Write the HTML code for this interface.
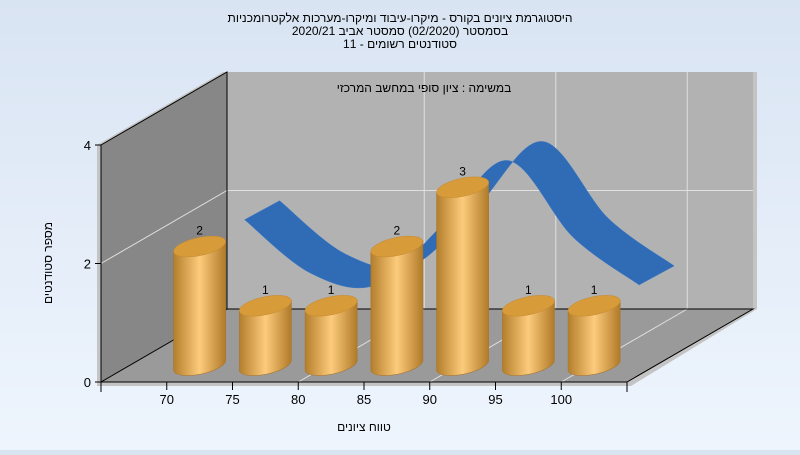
<!DOCTYPE html>
<html><head><meta charset="utf-8"><style>
html,body{margin:0;padding:0}
body{width:800px;height:450px;overflow:hidden;background:linear-gradient(#d9e4f3,#eef5fd);font-family:"Liberation Sans",sans-serif}
svg text{font-family:"Liberation Sans","DejaVu Sans",sans-serif}
</style></head><body>
<svg id="chart" width="800" height="450" viewBox="0 0 800 450">
<defs>
<linearGradient id="cyl" x1="0" x2="1" y1="0" y2="0">
<stop offset="0" stop-color="#b47f2c"/><stop offset="0.5" stop-color="#fdcb7c"/><stop offset="1" stop-color="#b07a28"/>
</linearGradient>
</defs>
<g font-size="12" text-anchor="middle" fill="#000">
<text x="400" y="22" direction="rtl">היסטוגרמת ציונים בקורס - מיקרו-עיבוד ומיקרו-מערכות אלקטרומכניות</text>
<text x="400" y="35" direction="rtl">בסמסטר  (02/2020)  סמסטר אביב 2020/21</text>
<text x="400" y="48" direction="rtl">סטודנטים רשומים - 11</text>
</g>
<!-- walls -->
<polygon points="97,145 223,72 757,72 757,309 631,386 97,386" fill="#c4c4c4"/>
<polygon points="227,72 753,72 753,309 227,309" fill="#b2b2b2"/>
<polygon points="101,145 227,72 227,309 101,382" fill="#878787"/>
<polygon points="101,382 227,309 753,309 627,382" fill="#9a9a9a"/>
<g id="grid" stroke="#e0e0e0" stroke-width="1" fill="none"></g>
<g id="frame" stroke="#000" stroke-width="1" fill="none">
<polyline points="101,145 227,72 227,309 753,309 627,382 101,382 101,145"/>
<line x1="101" y1="382" x2="227" y2="309"/>
</g>
<text x="424" y="92" font-size="12" text-anchor="middle" direction="rtl">במשימה : ציון סופי במחשב המרכזי</text>
<g id="ribbon"></g>
<g id="bars"></g>
<g id="axes" font-size="13" fill="#000"></g>
<text transform="translate(52,263) rotate(-90)" font-size="12" text-anchor="middle" direction="rtl">מספר סטודנטים</text>
<text x="364" y="431" font-size="12" text-anchor="middle" direction="rtl">טווח ציונים</text>
</svg>
<script>
const categories=[72.5,77.5,82.5,87.5,92.5,97.5,102.5];
const counts=[2,1,1,2,3,1,1];
const curveValues=[2.3,1.4,1.2,2.2,3.3,2.0,1.2];
const xTicks=[70,75,80,85,90,95,100];
const yTicks=[0,2,4];
const NS="http://www.w3.org/2000/svg";
const x0=101,xMin=65,xScale=526/40;
const X=v=>x0+(v-xMin)*xScale;
const Y=v=>382-v*59.25;
const DX=126,DY=-73;
function mk(t,a,p){const e=document.createElementNS(NS,t);for(const k in a)e.setAttribute(k,a[k]);p.appendChild(e);return e;}
const grid=document.getElementById('grid'),axes=document.getElementById('axes');
yTicks.forEach(v=>{
 if(v>0&&v<4){const l=mk('polyline',{points:`101,${Y(v)} 227,${Y(v)+DY} 753,${Y(v)+DY}`},grid);
 }
 const tk=mk('line',{x1:95,x2:101,y1:Y(v),y2:Y(v),stroke:'#000'},axes);
 
 const t=mk('text',{x:91,y:Y(v)+5,'text-anchor':'end'},axes);t.textContent=v;
 
});
xTicks.forEach(v=>{
 if(v%10===0&&v>70){const l=mk('polyline',{points:`${X(v)},382 ${X(v)+DX},309 ${X(v)+DX},72`},grid);
 }
 const tk=mk('line',{x1:X(v),x2:X(v),y1:382,y2:390,stroke:'#000'},axes);
 
 const t=mk('text',{x:X(v),y:404,'text-anchor':'middle'},axes);t.textContent=v;
 
});
[65,105].forEach(v=>{mk('line',{x1:X(v),x2:X(v),y1:382,y2:392,stroke:'#000'},axes);});
// ribbon
const rdx=45,rdy=-26,ox=35,oy=-19;
const pts=categories.map((c,i)=>[X(c)+rdx,Y(curveValues[i])+rdy]);
function spline(p){let s=[];for(let i=0;i<p.length-1;i++){const a=p[Math.max(i-1,0)],b=p[i],c=p[i+1],d=p[Math.min(i+2,p.length-1)];
 for(let t=0;t<1;t+=0.05){const t2=t*t,t3=t2*t;
 s.push([0.5*((2*b[0])+(-a[0]+c[0])*t+(2*a[0]-5*b[0]+4*c[0]-d[0])*t2+(-a[0]+3*b[0]-3*c[0]+d[0])*t3),
 0.5*((2*b[1])+(-a[1]+c[1])*t+(2*a[1]-5*b[1]+4*c[1]-d[1])*t2+(-a[1]+3*b[1]-3*c[1]+d[1])*t3)]);}}
 s.push(p[p.length-1]);return s;}
const sp=spline(pts);
const poly=sp.map(p=>p.join(',')).concat(sp.slice().reverse().map(p=>(p[0]+ox)+','+(p[1]+oy))).join(' ');
const rb=mk('polygon',{points:poly,fill:'#306bb6',stroke:'#3a78c8','stroke-width':0.5},document.getElementById('ribbon'));


// bars
const bars=document.getElementById('bars');
const base=Y(0)-17,rx=26,ry=8,ang=-12,sk=5.5;
categories.forEach((c,i)=>{
 const cx=X(c),top=base-counts[i]*59.25;
 const g=mk('g',{},bars);
 
 
 mk('path',{d:`M${cx-rx},${top+sk} L${cx-rx},${base+sk} A${rx} ${ry+1} ${ang} 0 0 ${cx+rx},${base-sk} L${cx+rx},${top-sk} Z`,fill:'url(#cyl)',stroke:'#a8742a','stroke-width':0.6},g);
 mk('ellipse',{cx:cx,cy:top,rx:rx+0.5,ry:ry+1,fill:'#d89b3a',stroke:'#c58a30','stroke-width':0.5,transform:`rotate(${ang} ${cx} ${top})`},g);
 const t=mk('text',{x:cx,y:top-12,'text-anchor':'middle','font-size':12,fill:'#000'},g);t.textContent=counts[i];
 
 
});
</script>
</body></html>
